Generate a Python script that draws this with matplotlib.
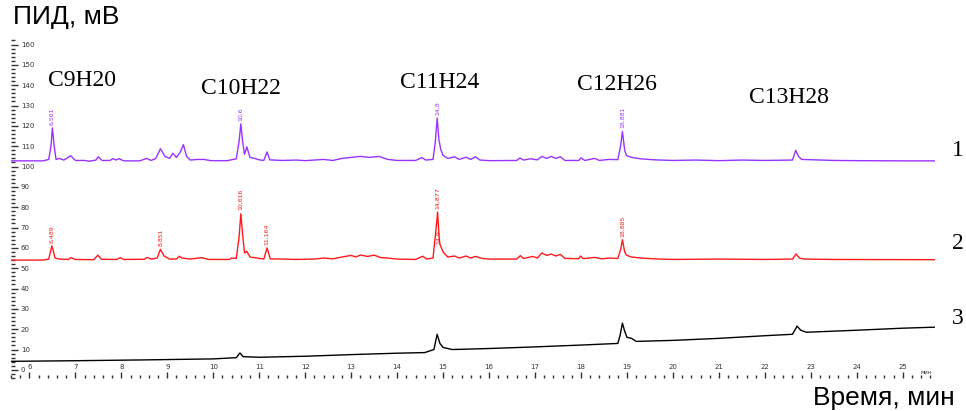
import matplotlib.pyplot as plt
from matplotlib.ticker import MultipleLocator


# Data
purple_t = [5.6, 6.0, 6.3, 6.42, 6.47, 6.50, 6.54, 6.58, 6.65, 6.75, 6.9, 7.0, 7.2, 7.3, 7.45, 7.5,
            7.58, 7.75, 7.82, 7.88, 7.95, 8.05, 8.4, 8.55, 8.65, 8.75, 8.85, 8.95, 9.05, 9.12, 9.2,
            9.28, 9.35, 9.42, 9.5, 9.65, 9.8, 9.95, 10.3, 10.5, 10.56, 10.6, 10.64, 10.68, 10.73,
            10.8, 10.9, 11.0, 11.1, 11.17, 11.23, 11.5, 11.8, 12.0, 12.4, 12.6, 12.8, 13.0, 13.2,
            13.4, 13.6, 13.8, 14.0, 14.4, 14.54, 14.62, 14.78, 14.83, 14.87, 14.91, 14.95, 15.0,
            15.1, 15.25, 15.35, 15.5, 15.6, 15.7, 15.8, 16.0, 16.6, 16.67, 16.75, 16.9, 17.05,
            17.15, 17.25, 17.35, 17.45, 17.55, 17.65, 17.95, 18.0, 18.08, 18.3, 18.4, 18.6, 18.8,
            18.86, 18.9, 18.95, 18.99, 19.1, 19.3, 19.6, 20.0, 20.5, 21.0, 21.5, 22.0, 22.6, 22.67,
            22.73, 22.8, 23.5, 24.0, 25.0, 25.7]
purple_v = [102.8, 102.8, 102.8, 103.5, 110, 119, 110, 103.5, 104, 103.2, 105.3, 103, 103, 102.6,
            103.2, 104.8, 103, 103, 103.9, 103.2, 103.9, 102.8, 102.8, 104, 103, 104, 108.8, 105,
            104, 106.5, 104.5, 107, 110.8, 105, 103.2, 103.5, 103.5, 102.9, 102.9, 103.8, 112,
            121, 112, 106, 109.7, 104.5, 104, 103.3, 103, 107.2, 103.3, 103, 103.2, 102.9, 103.5,
            103, 104, 104.5, 105, 104.5, 105, 103.5, 103, 103, 104.4, 103.2, 103.5, 112, 123.8,
            113, 108.3, 105.5, 104, 104.8, 103.5, 104.6, 103.5, 104.8, 103.2, 102.9, 103, 104.2,
            103.2, 103.8, 103.3, 105, 104, 105, 104, 104.8, 103, 103, 104.3, 103, 104, 103, 103.5,
            103.4, 110, 117.2, 108, 105.4, 104.5, 103.8, 103.3, 103, 103.2, 102.9, 103.2, 103,
            103.2, 108, 105, 103.5, 103, 102.9, 102.8, 102.8]

red_t = [5.6, 6.3, 6.42, 6.49, 6.56, 6.65, 6.85, 6.9, 7.0, 7.4, 7.49, 7.57, 7.9, 7.98, 8.05, 8.5,
         8.56, 8.65, 8.78, 8.85, 8.93, 9.05, 9.2, 9.26, 9.32, 9.5, 9.75, 9.9, 10.35, 10.4, 10.5,
         10.56, 10.6, 10.64, 10.68, 10.73, 10.8, 10.95, 11.1, 11.17, 11.24, 11.5, 11.8, 12.2, 12.4,
         12.6, 12.8, 13.0, 13.1, 13.2, 13.35, 13.5, 13.65, 13.8, 14.0, 14.4, 14.56, 14.64, 14.78,
         14.84, 14.88, 14.91, 14.93, 15.0, 15.1, 15.25, 15.35, 15.5, 15.6, 15.7, 15.85, 16.0, 16.6,
         16.68, 16.75, 16.95, 17.05, 17.15, 17.25, 17.35, 17.45, 17.55, 17.65, 17.95, 17.99, 18.05,
         18.3, 18.45, 18.6, 18.8, 18.86, 18.9, 18.95, 18.99, 19.1, 19.3, 19.6, 20.0, 21.0, 22.0,
         22.6, 22.68, 22.75, 22.85, 23.5, 25.7]
red_v = [54, 54, 54.5, 61, 55, 54.5, 54.3, 55.2, 54.3, 54.2, 56.4, 54.4, 54.3, 55.2, 54.3, 54.4,
         55.3, 54.5, 55, 59.3, 56, 54.5, 54.5, 55.9, 55, 54.5, 55.2, 54.3, 54.3, 55, 54.8, 65,
         76.8, 66, 57.5, 58.3, 55.5, 55, 54.5, 60, 54.6, 54.5, 54.3, 54.5, 55, 54.6, 55.5, 56.3,
         55.5, 56.5, 55.8, 56.4, 55.2, 55, 54.5, 54.3, 55.9, 54.5, 55, 68, 77.6, 66, 61.8, 58,
         55.5, 56, 55, 56, 55, 55.8, 54.8, 54.5, 54.5, 56.2, 54.8, 55.8, 55, 57.5, 56.3, 57, 56,
         56.8, 54.8, 54.7, 56, 54.7, 55.3, 54.6, 55, 54.8, 59, 64, 58, 56.4, 55.5, 55, 54.6, 54.3,
         54.5, 54.3, 54.5, 57, 55, 54.5, 54.3, 54.2]

black_t = [5.6, 7.0, 8.5, 10.0, 10.5, 10.58, 10.65, 11.0, 12.0, 13.0, 14.0, 14.6, 14.8, 14.87,
           14.93, 15.0, 15.2, 16.0, 17.0, 18.0, 18.8, 18.85, 18.9, 18.95, 19.0, 19.1, 19.2, 20.0,
           21.0, 22.0, 22.6, 22.7, 22.78, 22.9, 24.0, 25.0, 25.7]
black_v = [4.2, 4.5, 4.9, 5.4, 6.0, 8.3, 6.5, 6.2, 6.7, 7.5, 8.2, 8.5, 10, 17.5, 13, 11, 10, 10.5,
           11.3, 12.2, 13, 17, 23, 19, 16, 15.5, 14, 14.5, 15.5, 16.8, 17.5, 21.5, 19.5, 18.5,
           19.5, 20.5, 21]

# peak annotations: time, value, text
purple_peaks_t = [6.5, 10.6, 14.87, 18.9]
purple_peaks_v = [120.5, 122.5, 125.5, 119]
purple_peaks_txt = ["6,501", "10,6", "14,8", "18,881"]

red_peaks_t = [6.49, 8.85, 10.6, 11.17, 14.88, 14.9, 18.9]
red_peaks_v = [62.5, 61, 78.5, 61.5, 79, 62, 65.5]
red_peaks_txt = ["6,489", "8,851", "10,616", "11,164", "14,877", "14,9", "18,885"]

compounds = ["C9H20", "C10H22", "C11H24", "C12H26", "C13H28"]
compound_x = [82, 241, 440, 617, 789]   # pixel centres
compound_y = [80, 88, 82, 84, 97]

trace_names = ["1", "2", "3"]
trace_name_y = [150, 243, 318]

PURPLE = "#9933ff"
RED = "#ff1a1a"
W, H = 966, 411


def px(x, y):
    return x / W, 1 - y / H


fig = plt.figure(figsize=(W / 100, H / 100), dpi=100)
ax = fig.add_axes([11 / W, 33 / H, 924 / W, 337.5 / H])

ax.plot(purple_t, purple_v, color=PURPLE, lw=1)
ax.plot(red_t, red_v, color=RED, lw=1)
ax.plot(black_t, black_v, color="black", lw=1)

for t, v, s in zip(purple_peaks_t, purple_peaks_v, purple_peaks_txt):
    ax.text(t, v, s, rotation=90, fontsize=4.5, color=PURPLE, ha="center", va="bottom")
for t, v, s in zip(red_peaks_t, red_peaks_v, red_peaks_txt):
    ax.text(t, v, s, rotation=90, fontsize=4.5, color=RED, ha="center", va="bottom")

ax.set_xlim(5.6, 25.7)
ax.set_ylim(-4, 162)

for sp in ax.spines.values():
    sp.set_visible(False)

ax.yaxis.set_major_locator(MultipleLocator(10))
ax.yaxis.set_minor_locator(MultipleLocator(2))
ax.set_yticks(range(0, 161, 10))
ax.tick_params(axis="y", which="major", direction="in", length=5, width=1, pad=-7,
               labelsize=5, colors="#333333")
ax.tick_params(axis="y", which="minor", direction="in", length=3, width=1, colors="#333333")
for lab in ax.get_yticklabels():
    lab.set_ha("left")

ax.set_xticks(range(6, 26))
ax.xaxis.set_minor_locator(MultipleLocator(0.2))
ax.tick_params(axis="x", which="major", direction="in", length=4, width=1, pad=-6,
               labelsize=5, colors="#333333")
ax.tick_params(axis="x", which="minor", direction="in", length=2.5, width=1, colors="#333333")
for lab in ax.get_xticklabels():
    lab.set_va("bottom")
ax.text(25.5, -2.6, "мин", fontsize=4, color="#333333", ha="center", va="bottom")

fig.text(*px(13, 17), "ПИД, мВ", fontsize=19, family="Liberation Sans", va="center")
fig.text(*px(955, 398), "Время, мин", fontsize=19, family="Liberation Sans",
         ha="right", va="center")

for s, x, y in zip(compounds, compound_x, compound_y):
    fig.text(*px(x, y), s, fontsize=17, family="Liberation Serif", ha="center", va="center")
for s, y in zip(trace_names, trace_name_y):
    fig.text(*px(958, y), s, fontsize=17, family="Liberation Serif", ha="center", va="center")

fig.savefig("out.png", dpi=100)
